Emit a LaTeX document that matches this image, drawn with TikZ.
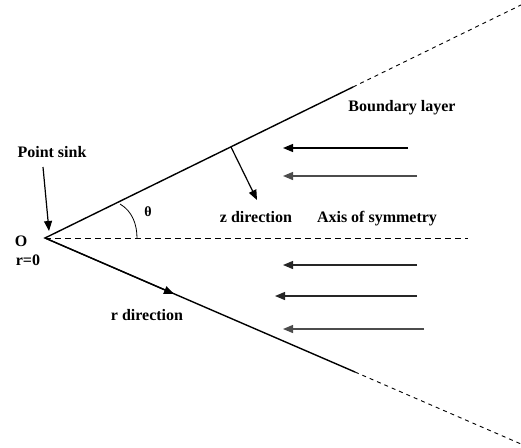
\documentclass[tikz,border=0pt]{standalone}
\usepackage{fontspec}
\setmainfont{Liberation Serif}
\usetikzlibrary{arrows.meta}
\tikzset{
  lbl/.style={font=\fontsize{16}{18}\selectfont\bfseries, inner sep=0pt},
  flow/.style={-{Triangle[length=10pt,width=8pt]}, line width=1.2pt},
  wall/.style={line width=1.4pt},
  ext/.style={line width=0.9pt, dash pattern=on 4pt off 4pt},
}
\begin{document}
\begin{tikzpicture}[x=1pt,y=-1pt]
    \useasboundingbox (0,0) rectangle (521,447);
    % cone walls and axis
    \coordinate (O) at (45,238);
    \coordinate (U) at (353,87);
    \coordinate (Uend) at (521,5);
    \coordinate (L) at (355,372);
    \coordinate (Lend) at (521,444);
    \coordinate (A) at (468,238);
    \draw[wall] (U) -- (O) -- (L);
    \draw[ext] (U) -- (Uend);
    \draw[ext] (L) -- (Lend);
    \draw[line width=1pt, dash pattern=on 6pt off 4pt] (O) -- (A);
    % angle
    \draw[line width=0.8pt] (120,204) .. controls (132,211) and (137,224) .. (137,238);
    \node[font=\fontsize{14}{16}\selectfont\bfseries] (theta) at (148,212) {θ};
    % labels
    \node[lbl] (sink) at (52,152) {Point sink};
    \node[lbl] (o) at (21,241) {O};
    \node[lbl] (r0) at (28,260) {r=0};
    \node[lbl] (bl) at (402,108) {Boundary layer};
    \node[lbl] (zdir) at (256,217) {z direction};
    \node[lbl] (axis) at (377,219) {Axis of symmetry};
    \node[lbl] (rdir) at (147,315) {r direction};
    % direction arrows
    \coordinate (sinktip) at (49,231);
    \draw[flow] (43,167) -- (sinktip);
    \coordinate (zstart) at (231,147);
    \coordinate (ztip) at (257,200);
    \draw[flow] (zstart) -- (ztip);
    \coordinate (rtip) at (174,294);
    \draw[flow] (O) -- (rtip);
    % inflow
    \foreach \y/\xa/\xb/\c in {148/408/283/black, 176/417/283/black!70, 265/417/283/black!85, 296/417/275/black!85, 329/424/283/black!70}
        \draw[flow, \c] (\xa,\y) -- (\xb,\y);
\end{tikzpicture}
\end{document}
